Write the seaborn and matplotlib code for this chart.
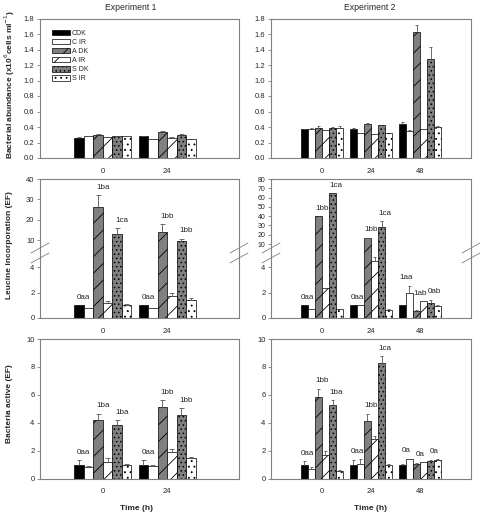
import numpy as np
import pandas as pd
import seaborn as sns
import matplotlib.pyplot as plt
from matplotlib.patches import Patch
from matplotlib.lines import Line2D

# --- data ---
treat = ['CDK', 'C IR', 'A DK', 'A IR', 'S DK', 'S IR']
times1 = ['0', '24']
times2 = ['0', '24', '48']

# bacterial abundance (x10^6 cells/ml), one row per time point
abund1 = [[0.26, 0.28, 0.30, 0.27, 0.28, 0.28],
          [0.28, 0.24, 0.34, 0.26, 0.30, 0.25]]
abund1_err = [[0.01, 0.01, 0.01, 0.00, 0.01, 0.01],
              [0.01, 0.00, 0.01, 0.01, 0.01, 0.00]]
abund2 = [[0.37, 0.38, 0.39, 0.36, 0.39, 0.39],
          [0.38, 0.32, 0.44, 0.31, 0.42, 0.32],
          [0.44, 0.35, 1.62, 0.38, 1.28, 0.40]]
abund2_err = [[0.01, 0.01, 0.02, 0.00, 0.01, 0.02],
              [0.01, 0.00, 0.01, 0.00, 0.00, 0.00],
              [0.02, 0.01, 0.09, 0.00, 0.15, 0.01]]

# leucine incorporation (EF)
leu1 = [[1.0, 0.75, 26, 1.2, 13, 1.0],
        [1.0, 0.75, 14, 1.75, 9.5, 1.4]]
leu1_err = [[0, 0, 6, 0.15, 3, 0.08],
            [0, 0, 4, 0.25, 1.2, 0.15]]
leu2 = [[1.0, 0.7, 40, 2.35, 65, 0.7],
        [1.0, 1.0, 16, 4.45, 28, 0.65],
        [1.0, 2.0, 0.55, 1.3, 1.15, 0.95]]
leu2_err = [[0, 0, 0, 0, 0, 0],
            [0, 0, 1, 0.3, 7, 0.05],
            [0, 0.55, 0.1, 0.05, 0.3, 0.05]]

# bacteria active (EF)
act1 = [[1.0, 0.85, 4.2, 1.15, 3.85, 0.95],
        [1.0, 0.9, 5.1, 1.9, 4.55, 1.45]]
act1_err = [[0.3, 0.05, 0.45, 0.3, 0.35, 0.08],
            [0.3, 0.05, 0.5, 0.25, 0.5, 0.12]]
act2 = [[1.0, 0.7, 5.85, 1.7, 5.3, 0.55],
        [1.0, 1.05, 4.15, 2.8, 8.3, 0.95],
        [1.0, 1.4, 1.05, 1.15, 1.25, 1.35]]
act2_err = [[0.25, 0.15, 0.6, 0.3, 0.35, 0.05],
            [0.3, 0.35, 0.5, 0.25, 0.45, 0.08],
            [0.05, 0.03, 0.03, 0.05, 0.08, 0.05]]

# significance letters: (time index, first bar of the pair, text)
leu1_lab = [(0, 0, '0aa'), (0, 2, '1ba'), (0, 4, '1ca'),
            (1, 0, '0aa'), (1, 2, '1bb'), (1, 4, '1bb')]
leu2_lab = [(0, 0, '0aa'), (0, 2, '1bb'), (0, 4, '1ca'),
            (1, 0, '0aa'), (1, 2, '1bb'), (1, 4, '1ca'),
            (2, 0, '1aa'), (2, 2, '1ab'), (2, 4, '0ab')]
act1_lab = [(0, 0, '0aa'), (0, 2, '1ba'), (0, 4, '1ba'),
            (1, 0, '0aa'), (1, 2, '1bb'), (1, 4, '1bb')]
act2_lab = [(0, 0, '0aa'), (0, 2, '1bb'), (0, 4, '1ba'),
            (1, 0, '0aa'), (1, 2, '1bb'), (1, 4, '1ca'),
            (2, 0, '0a'), (2, 2, '0a'), (2, 4, '0a')]

colors = ['black', 'white', '#808080', 'white', '#808080', 'white']
hatches = ['', '', '//', '//', '....', '...']

sns.set_style('white')
plt.rcParams['font.family'] = ['Liberation Sans', 'DejaVu Sans']
plt.rcParams['hatch.linewidth'] = 0.6

W, H = 480, 515
fig = plt.figure(figsize=(4.8, 5.15), dpi=100)


def px_axes(x0, x1, y0, y1):
    # pixel box (y measured from top) -> figure axes
    return fig.add_axes([x0 / W, 1 - y1 / H, (x1 - x0) / W, (y1 - y0) / H])


def style(ax):
    for s in ax.spines.values():
        s.set_color('#808080')
        s.set_linewidth(0.8)
    ax.tick_params(axis='y', direction='out', length=2.5, width=0.6,
                   color='#808080', labelsize=5.5, pad=1.5, left=True)
    ax.tick_params(axis='x', length=0, labelsize=5.5, pad=7)
    ax.set_xlabel('')
    ax.set_ylabel('')


def draw_bars(ax, times, vals, errs, width, floor=None):
    df = pd.DataFrame({'time': np.repeat(times, len(treat)),
                       'treat': treat * len(times),
                       'value': np.ravel(vals)})
    sns.barplot(data=df, x='time', y='value', hue='treat', order=times,
                hue_order=treat, palette=dict(zip(treat, colors)),
                width=width, saturation=1, errorbar=None, edgecolor='black',
                linewidth=0.5, legend=False, ax=ax)
    errs = np.asarray(errs)
    cw = width / len(treat) * 0.25
    for k, cont in enumerate(ax.containers):
        for j, bar in enumerate(cont):
            bar.set_hatch(hatches[k])
            y = bar.get_height()
            if floor is not None and y <= floor:
                # short bars live only in the lower part of a broken axis
                bar.set_visible(False)
                continue
            e = errs[j, k]
            if e > 0:
                x = bar.get_x() + bar.get_width() / 2
                ax.vlines(x, y, y + e, color='#555555', lw=0.6, zorder=3)
                ax.hlines(y + e, x - cw, x + cw, color='#555555', lw=0.6, zorder=3)
    style(ax)


def add_labels(ax, vals, errs, labels, ax_hi=None, split=None):
    vals = np.asarray(vals, float)
    errs = np.asarray(errs, float)
    for t, b, txt in labels:
        bars = [ax.containers[b][t], ax.containers[b + 1][t]]
        x = np.mean([p.get_x() + p.get_width() / 2 for p in bars])
        top = max(vals[t, b] + errs[t, b], vals[t, b + 1] + errs[t, b + 1])
        target = ax_hi if (ax_hi is not None and top > split) else ax
        target.annotate(txt, (x, top), xytext=(0, 3), textcoords='offset points',
                        ha='center', va='bottom', fontsize=5.8)


LX = (40, 239)
RX = (271, 471)
xl1 = (-0.98, 2.12)
xl2 = (-1.04, 3.04)

# row 1: bacterial abundance
ax = px_axes(*LX, 18.5, 158)
draw_bars(ax, times1, abund1, abund1_err, 0.89)
ax.set_xlim(*xl1)
ax.set_ylim(0, 1.8)
ax.set_yticks(np.arange(0, 1.81, 0.2))
ax.set_yticklabels([f'{v:.1f}' for v in np.arange(0, 1.81, 0.2)])
handles = [Patch(facecolor=c, edgecolor='black', hatch=h, lw=0.5)
           for c, h in zip(colors, hatches)]
ax.legend(handles, treat, loc='upper left', bbox_to_anchor=(0.06, 0.92),
          frameon=False, fontsize=5, handlelength=2.6, handleheight=0.8,
          labelspacing=0.3, borderpad=0, borderaxespad=0, handletextpad=0.3)

ax = px_axes(*RX, 18.5, 158)
draw_bars(ax, times2, abund2, abund2_err, 0.86)
ax.set_xlim(*xl2)
ax.set_ylim(0, 1.8)
ax.set_yticks(np.arange(0, 1.81, 0.2))
ax.set_yticklabels([f'{v:.1f}' for v in np.arange(0, 1.81, 0.2)])

# row 2: leucine incorporation, broken y axis
split_lo = 5.18
for X, times, vals, errs, labs, w, xl, hi_lim, hi_ticks in [
        (LX, times1, leu1, leu1_err, leu1_lab, 0.89, xl1, (4.1, 40), [10, 20, 30, 40]),
        (RX, times2, leu2, leu2_err, leu2_lab, 0.86, xl2, (1.4, 80), list(range(10, 81, 10)))]:
    hi = px_axes(*X, 179, 252)
    lo = px_axes(*X, 252, 318)
    draw_bars(hi, times, vals, errs, w, floor=split_lo)
    draw_bars(lo, times, vals, errs, w)
    for a in (hi, lo):
        a.set_xlim(*xl)
    hi.set_ylim(*hi_lim)
    hi.set_yticks(hi_ticks)
    hi.set_xticks([])
    hi.spines['bottom'].set_visible(False)
    lo.spines['top'].set_visible(False)
    lo.set_ylim(0, split_lo)
    lo.set_yticks([0, 2, 4])
    if len(hi_ticks) > 4:
        hi.tick_params(axis='y', labelsize=5)
    add_labels(lo, vals, errs, labs, ax_hi=hi, split=split_lo - 0.8)
    # break marks across each vertical spine
    for xs in X:
        for cy in (515 - 248, 515 - 258):
            fig.add_artist(Line2D([(xs - 9) / W, (xs + 9) / W],
                                  [(cy - 5) / H, (cy + 5) / H],
                                  color='#808080', lw=0.6))

# row 3: bacteria active
ax = px_axes(*LX, 339, 478.5)
draw_bars(ax, times1, act1, act1_err, 0.89)
ax.set_xlim(*xl1)
ax.set_ylim(0, 10)
ax.set_yticks(range(0, 11, 2))
add_labels(ax, act1, act1_err, act1_lab)

ax = px_axes(*RX, 339, 478.5)
draw_bars(ax, times2, act2, act2_err, 0.86)
ax.set_xlim(*xl2)
ax.set_ylim(0, 10)
ax.set_yticks(range(0, 11, 2))
add_labels(ax, act2, act2_err, act2_lab)

# titles and axis labels
fig.text(131 / W, 1 - 8 / H, 'Experiment 1', ha='center', va='center', fontsize=6.2)
fig.text(370 / W, 1 - 8 / H, 'Experiment 2', ha='center', va='center', fontsize=6.2)
fig.text(10 / W, 1 - 84 / H, 'Bacterial abundance (x10$^{6}$cells ml$^{-1}$)',
         rotation=90, ha='center', va='center', fontsize=6, fontweight='bold')
fig.text(10 / W, 1 - 245 / H, 'Leucine incorporation (EF)',
         rotation=90, ha='center', va='center', fontsize=6, fontweight='bold')
fig.text(10 / W, 1 - 404 / H, 'Bacteria active (EF)',
         rotation=90, ha='center', va='center', fontsize=6, fontweight='bold')
fig.text(137 / W, 1 - 508 / H, 'Time (h)', ha='center', va='center',
         fontsize=6, fontweight='bold')
fig.text(371 / W, 1 - 508 / H, 'Time (h)', ha='center', va='center',
         fontsize=6, fontweight='bold')

plt.savefig('out.png', dpi=100)
plt.close()
